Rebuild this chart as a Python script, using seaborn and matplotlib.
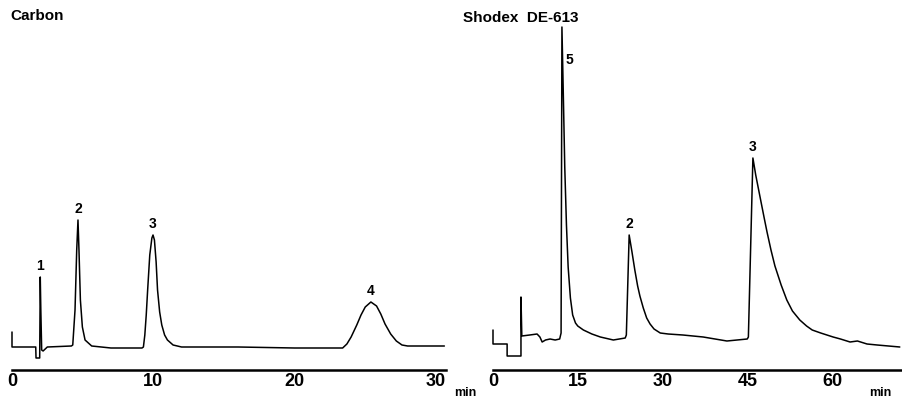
import numpy as np
import pandas as pd
import seaborn as sns
import matplotlib.pyplot as plt

# detector trace (time in min, response in arbitrary units)
CARBON_TIME = [0.0, 0.0, 1.0, 1.68, 1.70, 1.96, 2.00, 2.04, 2.10, 2.2, 2.5, 4.2, 4.3, 4.46, 4.58, 4.67,
               4.74, 4.84, 4.98, 5.17, 5.64, 7.0, 9.2, 9.3, 9.4, 9.5, 9.6, 9.75, 9.9, 9.98, 10.08, 10.2,
               10.3, 10.45, 10.6, 10.8, 11.0, 11.4, 12.0, 16.0, 20.0, 23.4, 23.7, 24.0, 24.4, 24.7,
               25.0, 25.4, 25.8, 26.1, 26.4, 26.8, 27.2, 27.6, 28.0, 30.6]
CARBON_SIGNAL = [38, 23, 23, 23, 12, 12, 93, 60, 20, 19, 23, 24, 25, 60, 120, 150,
                 120, 70, 43, 30, 24, 22, 22, 23, 35, 55, 80, 115, 132, 135, 130, 108,
                 80, 58, 45, 35, 30, 25, 23, 23, 22, 22, 26, 33, 45, 55,
                 63, 68, 64, 56, 46, 36, 29, 25, 24, 24]

# Shodex DE-613 trace
SHODEX_TIME = [0.0, 0.0, 2.5, 2.5, 4.95, 4.95, 5.1, 6.5, 7.8, 8.3, 8.7, 9.3, 10.1, 11.0, 11.8, 12.05,
               12.2, 12.5, 12.7, 13.0, 13.3, 13.7, 14.1, 14.6, 15.0, 16.0, 17.5, 19.0, 21.3, 23.4,
               23.6, 24.1, 24.6, 25.1, 25.6, 26.0, 26.6, 27.2, 27.8, 28.5, 29.6, 31.0, 33.6, 37.2,
               41.4, 45.0, 45.2, 46.0, 46.5, 47.3, 48.0, 48.5, 49.2, 49.9, 51.0, 52.0, 53.0, 54.3,
               55.5, 56.5, 58.0, 60.2, 61.5, 63.2, 64.5, 66.2, 68.0, 70.0, 72.0]
SHODEX_SIGNAL = [40, 26, 26, 14, 14, 73, 34, 35, 36, 33, 28, 30, 31, 30, 31, 37,
                 343, 260, 203, 145, 103, 72, 55, 47, 44, 40, 36, 33, 30, 32,
                 35, 135, 118, 100, 84, 74, 62, 52, 46, 41, 37, 36, 35, 33,
                 29, 31, 33, 212, 195, 172, 152, 138, 120, 104, 85, 70, 59, 50,
                 44, 40, 37, 33, 31, 28, 29, 26, 25, 24, 23]

CARBON_PEAKS = ["1", "2", "3", "4"]
CARBON_PEAK_TIMES = [2.0, 4.67, 9.98, 25.4]
SHODEX_PEAKS = ["5", "2", "3"]
SHODEX_PEAK_TIMES = [12.2, 24.1, 46.0]

CARBON_TICKS = [0, 10, 20, 30]
SHODEX_TICKS = [0, 15, 30, 45, 60]

sns.set_style("white")
plt.rcParams['font.family'] = ['Liberation Sans', 'DejaVu Sans']
plt.rcParams['text.color'] = 'black'
plt.rcParams['xtick.color'] = 'black'

fig = plt.figure(figsize=(9.02, 3.98), dpi=100)
W, H = 902, 398


def px_axes(x0, x1, y_bottom, y_top):
    return fig.add_axes([x0 / W, (H - y_bottom) / H, (x1 - x0) / W, (y_bottom - y_top) / H])


def draw_trace(ax, t, s, ticks, tmax, xlim):
    df = pd.DataFrame({"time": t, "signal": s})
    sns.lineplot(data=df, x="time", y="signal", ax=ax, sort=False, estimator=None,
                 color="black", linewidth=1.1)
    ax.set_xlim(*xlim)
    ax.set_ylim(0, 350)
    for side in ["top", "right", "left"]:
        ax.spines[side].set_visible(False)
    ax.spines["bottom"].set_bounds(0, tmax)
    ax.spines["bottom"].set_linewidth(1.8)
    ax.spines["bottom"].set_color("black")
    ax.set_xticks(ticks)
    ax.set_yticks([])
    ax.tick_params(axis="x", direction="in", length=6, width=1.5, pad=2, labelsize=13)
    for lab in ax.get_xticklabels():
        lab.set_fontweight("bold")
    ax.set_xlabel("")
    ax.set_ylabel("")
    return ax


def label_peaks(ax, t, s, peaks, peak_times):
    arr_t = np.array(t)
    arr_s = np.array(s)
    for name, pt in zip(peaks, peak_times):
        top = arr_s[np.abs(arr_t - pt) < 0.6].max()
        if name == "5":
            # label of the tall peak sits beside it, below the apex
            ax.text(pt + 1.3, top - 40, name, ha="center", va="bottom", fontsize=10, fontweight="bold")
        else:
            ax.text(pt, top + 4, name, ha="center", va="bottom", fontsize=10, fontweight="bold")


ax1 = px_axes(8, 450, 370, 20)
draw_trace(ax1, CARBON_TIME, CARBON_SIGNAL, CARBON_TICKS, 30.7, (-4 / 14.13, 438 / 14.13))
label_peaks(ax1, CARBON_TIME, CARBON_SIGNAL, CARBON_PEAKS, CARBON_PEAK_TIMES)

ax2 = px_axes(489, 902, 370, 20)
draw_trace(ax2, SHODEX_TIME, SHODEX_SIGNAL, SHODEX_TICKS, 72.2, (-4 / 5.65, 409 / 5.65))
label_peaks(ax2, SHODEX_TIME, SHODEX_SIGNAL, SHODEX_PEAKS, SHODEX_PEAK_TIMES)

fig.text(10 / W, 1 - 16 / H, "Carbon", ha="left", va="center", fontsize=11, fontweight="bold")
fig.text(463 / W, 1 - 18 / H, "Shodex  DE-613", ha="left", va="center", fontsize=11, fontweight="bold")
fig.text(465 / W, 1 - 393 / H, "min", ha="center", va="center", fontsize=9, fontweight="bold")
fig.text(880 / W, 1 - 393 / H, "min", ha="center", va="center", fontsize=9, fontweight="bold")

fig.savefig("out.png", dpi=100)
